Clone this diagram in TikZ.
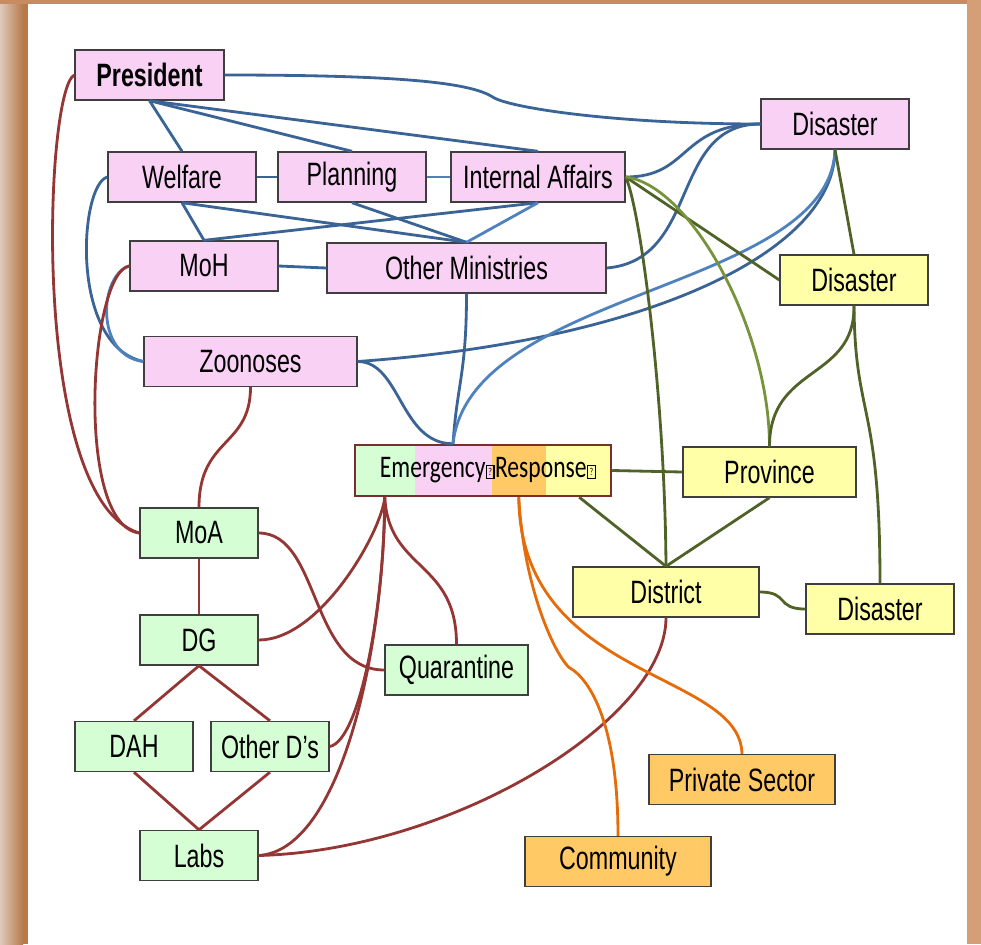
\documentclass[tikz,border=0pt]{standalone}
\usepackage{fontspec}
\setmainfont{Liberation Sans}[FakeStretch=0.72]
\newfontfamily\calfont{Carlito}[FakeStretch=0.75]
\usetikzlibrary{backgrounds}
\definecolor{govpink}{RGB}{248,209,244}
\definecolor{vetgreen}{RGB}{213,254,213}
\definecolor{dmyellow}{RGB}{255,255,167}
\definecolor{puborange}{RGB}{255,202,102}
\definecolor{boxline}{RGB}{63,63,63}
\definecolor{emline}{RGB}{123,46,46}
\definecolor{linkblue}{RGB}{58,100,149}
\definecolor{linklblue}{RGB}{79,129,189}
\definecolor{linkred}{RGB}{148,54,52}
\definecolor{linkolive}{RGB}{79,98,40}
\definecolor{linkgreen}{RGB}{119,147,60}
\definecolor{linkorange}{RGB}{228,108,10}
\definecolor{frameA}{RGB}{222,202,186}
\definecolor{frameB}{RGB}{183,122,76}
\definecolor{frameC}{RGB}{200,140,96}
\definecolor{frameD}{RGB}{212,158,118}
\newcommand{\tofu}{\kern0.3pt{\fboxsep=0pt\fboxrule=0.6pt\fbox{\makebox[3.6pt]{\rule{0pt}{7pt}\raisebox{1.2pt}{\fontsize{6}{6}\selectfont ?}}}}\kern0.3pt}

\begin{document}
\begin{tikzpicture}[x=0.02cm,y=-0.02cm,
  box/.style={draw=boxline, line width=0.8pt, minimum height=1cm, inner sep=0pt,
    font=\fontsize{18.4}{20}\selectfont},
  gov/.style={box, fill=govpink},
  vet/.style={box, fill=vetgreen},
  dm/.style={box, fill=dmyellow},
  pub/.style={box, fill=puborange},
  wd/.style={minimum width=#1*0.02cm},
  ln/.style={line width=1.6pt},
  bl/.style={ln, draw=linkblue},
  lbl/.style={ln, draw=linklblue},
  rd/.style={ln, draw=linkred},
  og/.style={ln, draw=linkolive},
  lg/.style={ln, draw=linkgreen},
  orl/.style={ln, draw=linkorange}]
  \useasboundingbox (0,0) rectangle (981,944);
  % frame
  \fill[left color=frameA, right color=frameB] (0,0) rectangle (23,944);
  \fill[frameB] (23,0) rectangle (28,944);
  \fill[frameC] (0,0) rectangle (981,4);
  \fill[frameD] (967,0) rectangle (981,944);

  % ministries
  \node[gov,wd=149,font=\bfseries\fontsize{18.4}{20}\selectfont] (pres) at (149.5,75) {President};
  \node[gov,wd=148] (welf) at (182,177) {Welfare};
  \node[gov,wd=148] (plan) at (352,177) {Planning};
  \node[gov,wd=174] (intaff) at (538,177) {Internal Affairs};
  \node[gov,wd=148] (disnat) at (835,124) {Disaster};
  \node[gov,wd=148] (moh) at (204,266) {MoH};
  \node[gov,wd=279] (othmin) at (466.5,268) {Other Ministries};
  \node[gov,wd=213] (zoo) at (250.5,361.5) {Zoonoses};
  % disaster management
  \node[dm,wd=148] (disprov) at (854,280) {Disaster};
  \node[dm,wd=173] (prov) at (769.5,472) {Province};
  \node[dm,wd=186] (dist) at (666,592) {District};
  \node[dm,wd=148] (disdist) at (880,609) {Disaster};
  % emergency response
  \node[draw=emline, line width=1.4pt, wd=256, minimum height=51*0.02cm, inner sep=0pt,
    font=\calfont\fontsize{17.9}{19}\selectfont] (emerg) at (483,470.5)
    {\hspace*{0.2cm}Emergency\tofu{}Response\tofu};
  \begin{scope}[on background layer]
    \fill[vetgreen] (emerg.north west) rectangle ([xshift=1.22cm]emerg.south west);
    \fill[govpink] ([xshift=1.22cm]emerg.north west) rectangle ([xshift=2.76cm]emerg.south west);
    \fill[puborange] ([xshift=2.76cm]emerg.north west) rectangle ([xshift=3.84cm]emerg.south west);
    \fill[dmyellow] ([xshift=3.84cm]emerg.north west) rectangle (emerg.south east);
  \end{scope}
  \coordinate (etop) at ([xshift=-0.6cm]emerg.north);
  \coordinate (ebred) at ([xshift=0.62cm]emerg.south west);
  \coordinate (eborg) at ([xshift=3.3cm]emerg.south west);
  \coordinate (ebgrn) at ([xshift=-0.66cm]emerg.south east);
  % agriculture
  \node[vet,wd=118] (moa) at (199,533) {MoA};
  \node[vet,wd=118] (dg) at (199,640) {DG};
  \node[vet,wd=143] (quar) at (456.5,670) {Quarantine};
  \node[vet,wd=118] (dah) at (134,746.5) {DAH};
  \node[vet,wd=118] (othd) at (270,746.5) {Other D’s};
  \node[vet,wd=118] (labs) at (199,855.5) {Labs};
  % private
  \node[pub,wd=186] (priv) at (742,779.5) {Private Sector};
  \node[pub,wd=186] (comm) at (618,861.5) {Community};

  % blue links
  \draw[bl] (pres.east) .. controls +(180,0) and +(-22,-14) .. ++(268,22)
    .. controls +(14,10) and +(-150,0) .. (disnat.west);
  \foreach \t in {welf,plan,intaff}
    \draw[bl] (pres.south) -- (\t.north);
  \draw[bl] (welf.east) -- (plan.west);
  \draw[lbl] (plan.east) -- (intaff.west);
  \draw[bl] (welf.south) -- (moh.north);
  \draw[bl] (welf.south) -- (othmin.north);
  \draw[bl] (plan.south) -- (othmin.north);
  \draw[bl] (moh.north) -- (intaff.south);
  \draw[lbl] (intaff.south) -- (othmin.north);
  \draw[bl] (moh.east) -- (othmin.west);
  \draw[bl] (welf.west) .. controls +(-28,8) and +(-74,-16) .. (zoo.west);
  \draw[lbl] (moh.west) .. controls +(-30,9) and +(-49,-6) .. (zoo.west);
  \draw[bl] (intaff.east) .. controls +(65,0) and +(-81,0) .. (disnat.west);
  \draw[bl] (othmin.east) .. controls +(94,-8) and +(-91,0) .. (disnat.west);
  \draw[bl] (zoo.east) .. controls +(293,-21) and +(0,101) .. (disnat.south);
  \draw[bl] (zoo.east) .. controls +(43,0) and +(-53,0) .. (etop);
  \draw[bl] (othmin.south) .. controls +(0,80) and +(4,-60) .. (etop);
  \draw[lbl] (etop) .. controls +(17,-155) and +(-5,141) .. (disnat.south);

  % green links
  \draw[og] (intaff.east) -- (disprov.west);
  \draw[og] (intaff.east) .. controls +(15,33) and +(-1,-167) .. (dist.north);
  \draw[lg] (intaff.east) .. controls +(65,8) and +(0,-117) .. (prov.north);
  \draw[og] (disnat.south) -- (disprov.north);
  \draw[og] (disprov.south) .. controls +(1,75) and +(0,-82) .. (prov.north);
  \draw[og] (disprov.south) .. controls +(1,115) and +(0,-184) .. (disdist.north);
  \draw[og] (emerg.east) -- (prov.west);
  \draw[og] (ebgrn) -- (dist.north);
  \draw[og] (prov.south) -- (dist.north);
  \draw[og] (dist.east) .. controls +(30,0) and +(-30,0) .. (disdist.west);

  % red links
  \draw[rd] (pres.west) .. controls +(-30,15) and +(-110,-33) .. (moa.west);
  \draw[rd] (moh.west) .. controls +(-40,6) and +(-65,-8) .. (moa.west);
  \draw[rd] (zoo.south) .. controls +(0,60) and +(0,-70) .. (moa.north);
  \draw[rd] (moa.south) -- (dg.north);
  \draw[rd] (moa.east) .. controls +(62,0) and +(-75,0) .. (quar.west);
  \draw[rd] (dg.east) .. controls +(62,0) and +(-3,34) .. (ebred);
  \draw[rd] (ebred) .. controls +(4,74) and +(0,-84) .. (quar.north);
  \draw[rd] (ebred) .. controls +(0,104) and +(31,-6) .. (othd.east);
  \draw[rd] (ebred) .. controls +(-1,154) and +(82,-5) .. (labs.east);
  \foreach \t in {dah,othd} {
    \draw[rd] (dg.south) -- (\t.north);
    \draw[rd] (\t.south) -- (labs.north);
  }
  \draw[rd] (labs.east) .. controls +(192,-5) and +(0,103) .. (dist.south);

  % orange links
  \draw[orl] (eborg) .. controls +(5,90) and +(-15,-15) .. ++(50,170)
    .. controls +(22,12) and +(0,-110) .. (comm.north);
  \draw[orl] (eborg) .. controls +(2,184) and +(-2,-84) .. (priv.north);
\end{tikzpicture}
\end{document}
